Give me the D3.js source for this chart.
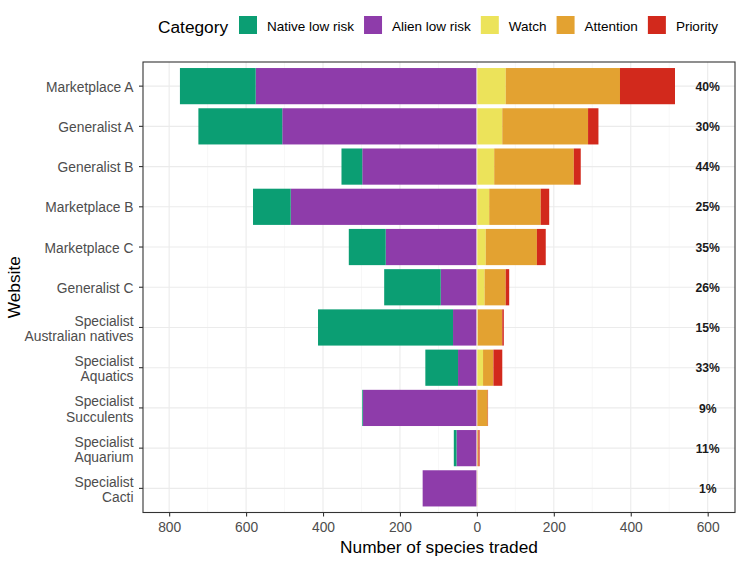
<!DOCTYPE html>
<meta charset="utf-8">
<script src="https://cdn.jsdelivr.net/npm/d3@7"></script>
<style>
  body { margin: 0; background: #fff; }
  text { font-family: "Liberation Sans", Arial, sans-serif; }
</style>
<body>
<script>

var width = 752
var height = 568

var websites = ["Marketplace A", "Generalist A", "Generalist B", "Marketplace B", "Marketplace C", "Generalist C",
                "Specialist\nAustralian natives", "Specialist\nAquatics", "Specialist\nSucculents",
                "Specialist\nAquarium", "Specialist\nCacti"]
var native_low = [197, 218, 54, 98, 96, 147, 351, 85, 2, 7, 0]
var alien_low = [575, 506, 298, 484, 237, 94, 62, 49, 296, 53, 141]
var watch = [75, 66, 45, 32, 23, 20, 2, 16, 0, 0, 0]
var attention = [297, 223, 207, 134, 133, 55, 64, 27, 28, 4, 1]
var priority = [143, 27, 18, 22, 23, 9, 4, 23, 1, 3, 0]
var pct_labels = ["40%", "30%", "44%", "25%", "35%", "26%", "15%", "33%", "9%", "11%", "1%"]

var categories = ["Native low risk", "Alien low risk", "Watch", "Attention", "Priority"]
var colors = ["#0b9e73", "#8e3caa", "#ece35a", "#e3a231", "#d2291c"]
var x_ticks = [-800, -600, -400, -200, 0, 200, 400, 600]
var x_minor = [-700, -500, -300, -100, 100, 300, 500]
var label_pos = 600

var p_left = 143, p_right = 735, p_top = 62, p_bottom = 512.5

var x = d3.scaleLinear().domain([-868, 671]).range([p_left, p_right])
var y = d3.scaleBand().domain(websites).range([p_top, p_bottom]).paddingInner(0.1).paddingOuter(0.15)
var color = d3.scaleOrdinal().domain(categories).range(colors)

var svg = d3.select("body").append("svg")
            .attr("width", width)
            .attr("height", height)

// grid
var grid = svg.append("g")
grid.selectAll(".minor").data(x_minor).enter().append("line")
    .attr("x1", d => x(d)).attr("x2", d => x(d))
    .attr("y1", p_top).attr("y2", p_bottom)
    .style("stroke", "#f2f2f2").style("stroke-width", 0.6)
grid.selectAll(".major").data(x_ticks).enter().append("line")
    .attr("x1", d => x(d)).attr("x2", d => x(d))
    .attr("y1", p_top).attr("y2", p_bottom)
    .style("stroke", "#ebebeb").style("stroke-width", 1.1)
grid.selectAll(".hmajor").data(websites).enter().append("line")
    .attr("x1", p_left).attr("x2", p_right)
    .attr("y1", d => y(d) + y.bandwidth() / 2).attr("y2", d => y(d) + y.bandwidth() / 2)
    .style("stroke", "#ebebeb").style("stroke-width", 1.1)

// stacked segments: negative side alien then native outward, positive side watch, attention, priority
var segments = []
websites.forEach(function(w, i) {
  var a0 = 0
  segments.push({site: w, cat: categories[1], x0: -alien_low[i], x1: 0})
  segments.push({site: w, cat: categories[0], x0: -alien_low[i] - native_low[i], x1: -alien_low[i]})
  var pos = [watch[i], attention[i], priority[i]]
  pos.forEach(function(v, j) {
    segments.push({site: w, cat: categories[j + 2], x0: a0, x1: a0 + v})
    a0 += v
  })
})

svg.append("g").selectAll("rect").data(segments.filter(d => d.x1 > d.x0)).enter().append("rect")
   .attr("x", d => x(d.x0))
   .attr("width", d => x(d.x1) - x(d.x0))
   .attr("y", d => y(d.site))
   .attr("height", y.bandwidth())
   .style("fill", d => color(d.cat))

svg.append("line")
   .attr("x1", x(0)).attr("x2", x(0))
   .attr("y1", p_top).attr("y2", p_bottom)
   .style("stroke", "#ffffff").style("stroke-width", 0.8)

// percentage labels
svg.append("g").selectAll("text").data(websites).enter().append("text")
   .attr("x", x(label_pos))
   .attr("y", d => y(d) + y.bandwidth() / 2)
   .attr("dy", "0.38em")
   .style("text-anchor", "middle")
   .style("font-size", "12.2px")
   .style("font-weight", "bold")
   .style("fill", "#1a1a1a")
   .text((d, i) => pct_labels[i])

// panel border
svg.append("rect")
   .attr("x", p_left).attr("y", p_top)
   .attr("width", p_right - p_left).attr("height", p_bottom - p_top)
   .style("fill", "none").style("stroke", "#333333").style("stroke-width", 1.1)

// axes
var xaxis = svg.append("g")
   .attr("transform", "translate(0," + p_bottom + ")")
   .call(d3.axisBottom(x).tickValues(x_ticks).tickFormat(d => Math.abs(d)).tickSize(4).tickPadding(6))
xaxis.select(".domain").remove()
xaxis.selectAll("line").style("stroke", "#333333").style("stroke-width", 1.1)
xaxis.selectAll("text").style("font-size", "13.8px").style("fill", "#4d4d4d")
     .style("font-family", "Liberation Sans, Arial, sans-serif")

var yaxis = svg.append("g")
   .attr("transform", "translate(" + p_left + ",0)")
   .call(d3.axisLeft(y).tickSize(4).tickPadding(4))
yaxis.select(".domain").remove()
yaxis.selectAll("line").style("stroke", "#333333").style("stroke-width", 1.1)
yaxis.selectAll("text")
     .style("font-size", "13.8px").style("fill", "#4d4d4d")
     .style("font-family", "Liberation Sans, Arial, sans-serif")
     .each(function(d) {
       var lines = d.split("\n")
       var t = d3.select(this).text(null).attr("dy", null)
       lines.forEach(function(l, k) {
         t.append("tspan")
          .attr("x", -9.5)
          .attr("dy", k == 0 ? (0.4 - (lines.length - 1) * 0.52) + "em" : "1.12em")
          .text(l)
       })
     })

svg.append("text")
   .attr("x", (p_left + p_right) / 2)
   .attr("y", 553)
   .style("text-anchor", "middle")
   .style("font-size", "17.3px")
   .style("fill", "#000")
   .text("Number of species traded")

svg.append("text")
   .attr("transform", "translate(20," + ((p_top + p_bottom) / 2) + ") rotate(-90)")
   .style("text-anchor", "middle")
   .style("font-size", "17.3px")
   .style("fill", "#000")
   .text("Website")

// legend
var legend = svg.append("g")
legend.append("text")
   .attr("x", 158).attr("y", 33)
   .style("font-size", "17.3px")
   .style("fill", "#000")
   .text("Category")
var lx = 239
categories.forEach(function(c) {
  legend.append("rect")
        .attr("x", lx).attr("y", 16)
        .attr("width", 18).attr("height", 18)
        .style("fill", color(c))
  var t = legend.append("text")
        .attr("x", lx + 28).attr("y", 30.5)
        .style("font-size", "13.5px")
        .style("fill", "#000")
        .text(c)
  lx = lx + 28 + t.node().getComputedTextLength() + 10
})

</script>
</body>
